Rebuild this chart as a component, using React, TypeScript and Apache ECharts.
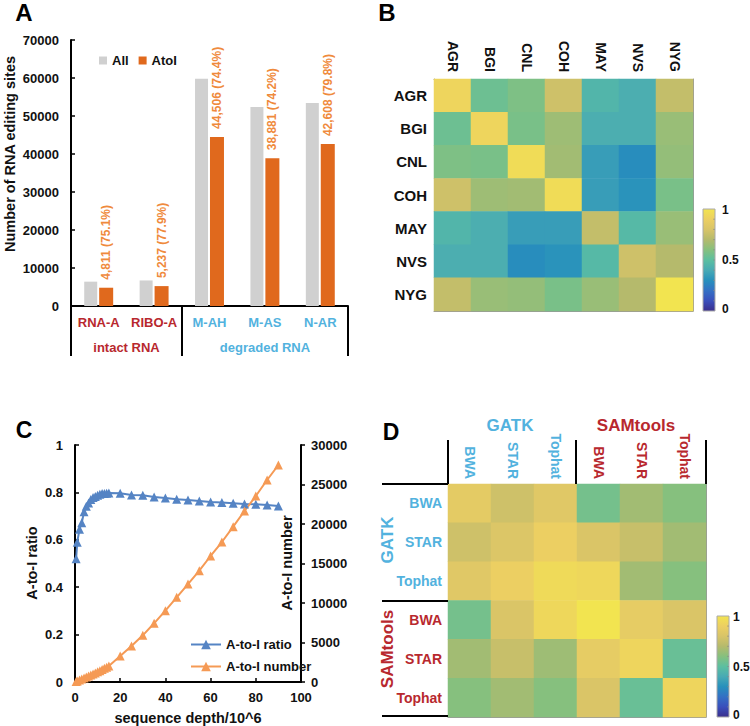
import React, { useEffect, useRef } from 'react';
import * as echarts from 'echarts';

// ---------- Panel A ----------
const sampleNames = ['RNA-A', 'RIBO-A', 'M-AH', 'M-AS', 'N-AR'];
const allSites = [6406, 6723, 59820, 52400, 53393];
const atoiSites = [4811, 5237, 44506, 38881, 42608];
const atoiPct = [75.1, 77.9, 74.4, 74.2, 79.8];
const groupNames = ['intact RNA', 'degraded RNA'];
const seriesNamesA = ['All', 'AtoI'];

// ---------- Panel B ----------
const centers = ['AGR', 'BGI', 'CNL', 'COH', 'MAY', 'NVS', 'NYG'];
const centerCorr = [
  [0.93, 0.54, 0.58, 0.77, 0.45, 0.42, 0.74],
  [0.54, 0.93, 0.57, 0.65, 0.42, 0.42, 0.64],
  [0.58, 0.57, 0.96, 0.66, 0.35, 0.29, 0.63],
  [0.77, 0.65, 0.66, 0.96, 0.35, 0.31, 0.57],
  [0.45, 0.42, 0.35, 0.35, 0.74, 0.47, 0.64],
  [0.42, 0.42, 0.29, 0.31, 0.47, 0.77, 0.70],
  [0.74, 0.64, 0.63, 0.57, 0.64, 0.70, 1.0],
];

// ---------- Panel C ----------
const depth = [0.5, 1, 2, 3, 4, 5, 6, 7, 8, 9, 10, 11, 12, 13, 14, 15, 20, 25, 30, 35, 40, 45, 50, 55, 60, 65, 70, 75, 80, 85, 90];
const atoiRatio = [0.52, 0.59, 0.645, 0.672, 0.718, 0.742, 0.755, 0.77, 0.778, 0.783, 0.788, 0.792, 0.795, 0.795, 0.796, 0.797,
  0.796, 0.789, 0.788, 0.781, 0.776, 0.771, 0.768, 0.764, 0.759, 0.757, 0.754, 0.751, 0.75, 0.747, 0.743];
const atoiNumber = [60, 130, 260, 380, 500, 620, 750, 880, 1010, 1150, 1290, 1430, 1580, 1730, 1880, 2040,
  3290, 4560, 5910, 7430, 9030, 10720, 12400, 14090, 15950, 17720, 19660, 21650, 23540, 25570, 27470];
const seriesNamesC = ['A-to-I ratio', 'A-to-I number'];

// ---------- Panel D ----------
const callers = ['GATK', 'SAMtools'];
const aligners = ['BWA', 'STAR', 'Tophat'];
const pipelineCorr = [
  [0.86, 0.77, 0.84, 0.56, 0.66, 0.60],
  [0.77, 0.82, 0.90, 0.81, 0.75, 0.66],
  [0.84, 0.90, 0.95, 0.94, 0.66, 0.60],
  [0.56, 0.81, 0.94, 1.00, 0.87, 0.81],
  [0.66, 0.75, 0.65, 0.87, 0.93, 0.53],
  [0.60, 0.66, 0.60, 0.81, 0.53, 0.93],
];

const FONT = '"Liberation Sans", Arial, sans-serif';
const RED = '#b8282e';
const BLUE = '#52b2de';
const CMAP = ['#3a2e8c', '#3a4fbc', '#3470c4', '#2790bc', '#48aab4', '#5cbfa0', '#86c07e', '#b5ba6c', '#d8c468', '#eccf62', '#f2e450'];

function txt(x: number, y: number, text: string, size: number, color: string, rot = 0, align = 'center') {
  return {
    type: 'text', x, y, rotation: rot, z: 100,
    style: { text, fill: color, font: `bold ${size}px ${FONT}`, align, verticalAlign: 'middle', textAlign: align, textVerticalAlign: 'middle' },
  };
}
function ln(x1: number, y1: number, x2: number, y2: number, color = '#000', w = 2) {
  return { type: 'line', z: 100, shape: { x1, y1, x2, y2 }, style: { stroke: color, lineWidth: w } };
}
function colorbar(x: number, y: number, w: number, h: number, lx: number) {
  const n = CMAP.length;
  const stops = CMAP.map((c, i) => ({ offset: i / (n - 1), color: CMAP[n - 1 - i] }));
  const els: any[] = [{
    type: 'rect', z: 100, shape: { x, y, width: w, height: h },
    style: { fill: new echarts.graphic.LinearGradient(0, 0, 0, 1, stops), stroke: '#aaa', lineWidth: 1 },
  }];
  for (let k = 1; k < 10; k++) {
    const yy = y + (h * k) / 10;
    els.push(ln(x + w - 2, yy, x + w, yy, '#888', 0.6));
  }
  els.push(txt(lx, y + 1, '1', 12, '#111', 0, 'left'));
  els.push(txt(lx, y + h / 2, '0.5', 12, '#111', 0, 'left'));
  els.push(txt(lx, y + h - 2, '0', 12, '#111', 0, 'left'));
  return els;
}

export default function App() {
  const ref = useRef<HTMLDivElement>(null);
  useEffect(() => {
    if (!ref.current) return;
    const chart = echarts.init(ref.current, null, { renderer: 'svg' });
    const dLabels = callers.flatMap((c) => aligners.map((a) => `${c}|${a}`));
    const heatB: number[][] = [];
    centerCorr.forEach((row, r) => row.forEach((v, c) => heatB.push([c, r, v])));
    const heatD: number[][] = [];
    pipelineCorr.forEach((row, r) => row.forEach((v, c) => heatD.push([c, r, v])));

    const dFmt = (v: string, i: number) => {
      const name = v.split('|')[1];
      return i < 3 ? `{b|${name}}` : `{r|${name}}`;
    };
    const dRich = {
      b: { color: BLUE, fontWeight: 'bold', fontSize: 14, fontFamily: FONT },
      r: { color: RED, fontWeight: 'bold', fontSize: 14, fontFamily: FONT },
    };
    const heatAxisCommon = {
      type: 'category',
      axisLine: { lineStyle: { color: '#999', width: 1 } },
      axisTick: { inside: true, alignWithLabel: true, length: 3, lineStyle: { color: '#666' } },
      splitLine: { show: false },
    };
    const plain = (v: number) => String(Math.round(v * 1000) / 1000);

    const option: any = {
      animation: false,
      backgroundColor: '#fff',
      textStyle: { fontFamily: FONT },
      grid: [
        { left: 71, top: 40, width: 277, height: 266 },
        { left: 434, top: 79, width: 259, height: 232 },
        { left: 75, top: 445, width: 226, height: 237 },
        { left: 448, top: 484, width: 258, height: 233 },
      ],
      legend: [
        {
          data: seriesNamesA, left: 94, top: 49, icon: 'rect', itemWidth: 8, itemHeight: 8, itemGap: 10,
          textStyle: { fontWeight: 'bold', fontSize: 13, color: '#111', fontFamily: FONT },
        },
        {
          data: seriesNamesC, left: 185, top: 633, orient: 'vertical', itemWidth: 30, itemHeight: 12, itemGap: 9,
          textStyle: { fontWeight: 'bold', fontSize: 13, color: '#111', fontFamily: FONT },
        },
      ],
      xAxis: [
        {
          gridIndex: 0, type: 'category', data: sampleNames,
          axisLine: { lineStyle: { color: '#000', width: 2 } }, axisTick: { show: false },
          axisLabel: {
            margin: 10, interval: 0,
            formatter: (v: string, i: number) => (i < 2 ? `{r|${v}}` : `{b|${v}}`),
            rich: {
              r: { color: RED, fontWeight: 'bold', fontSize: 13, fontFamily: FONT },
              b: { color: BLUE, fontWeight: 'bold', fontSize: 13, fontFamily: FONT },
            },
          },
        },
        {
          ...heatAxisCommon, gridIndex: 1, position: 'top', data: centers,
          axisLabel: { rotate: 90, margin: 7, fontWeight: 'bold', fontSize: 14, color: '#111', interval: 0 },
        },
        { ...heatAxisCommon, gridIndex: 1, position: 'bottom', data: centers, axisLabel: { show: false } },
        {
          gridIndex: 2, type: 'value', min: 0, max: 100, interval: 20,
          axisLine: { lineStyle: { color: '#000', width: 2 } },
          axisTick: { inside: true, length: 4, lineStyle: { color: '#000', width: 1.5 } },
          axisLabel: { margin: 9, fontWeight: 'bold', fontSize: 13, color: '#111', formatter: plain },
          splitLine: { show: false },
        },
        {
          ...heatAxisCommon, gridIndex: 3, position: 'top', data: dLabels,
          axisLabel: { rotate: 90, margin: 5, interval: 0, formatter: dFmt, rich: dRich },
        },
        { ...heatAxisCommon, gridIndex: 3, position: 'bottom', data: dLabels, axisLabel: { show: false } },
      ],
      yAxis: [
        {
          gridIndex: 0, type: 'value', min: 0, max: 70000, interval: 10000,
          axisLine: { show: true, lineStyle: { color: '#000', width: 2 } },
          axisTick: { show: true, inside: true, length: 4, lineStyle: { color: '#000', width: 1.5 } },
          axisLabel: { margin: 12, fontWeight: 'bold', fontSize: 13, color: '#111', formatter: plain },
          splitLine: { show: false },
        },
        {
          ...heatAxisCommon, gridIndex: 1, position: 'left', inverse: true, data: centers,
          axisLabel: { margin: 7, fontWeight: 'bold', fontSize: 15, color: '#111', interval: 0 },
        },
        { ...heatAxisCommon, gridIndex: 1, position: 'right', inverse: true, data: centers, axisLabel: { show: false } },
        {
          gridIndex: 2, type: 'value', min: 0, max: 1, interval: 0.2, position: 'left',
          axisLine: { show: true, lineStyle: { color: '#000', width: 2 } },
          axisTick: { show: true, inside: true, length: 4, lineStyle: { color: '#000', width: 1.5 } },
          axisLabel: { margin: 12, fontWeight: 'bold', fontSize: 13, color: '#111', formatter: plain },
          splitLine: { show: false },
        },
        {
          gridIndex: 2, type: 'value', min: 0, max: 30000, interval: 5000, position: 'right',
          axisLine: { show: true, lineStyle: { color: '#000', width: 2 } },
          axisTick: { show: true, inside: false, length: 4, lineStyle: { color: '#000', width: 1.5 } },
          axisLabel: { margin: 10, fontWeight: 'bold', fontSize: 13, color: '#111', formatter: plain },
          splitLine: { show: false },
        },
        {
          ...heatAxisCommon, gridIndex: 3, position: 'left', inverse: true, data: dLabels,
          axisLabel: { margin: 6, interval: 0, formatter: dFmt, rich: dRich },
        },
        { ...heatAxisCommon, gridIndex: 3, position: 'right', inverse: true, data: dLabels, axisLabel: { show: false } },
      ],
      visualMap: [{
        type: 'continuous', min: 0, max: 1, show: false, seriesIndex: [2, 5],
        inRange: { color: CMAP },
      }],
      series: [
        {
          name: 'All', type: 'bar', xAxisIndex: 0, yAxisIndex: 0, data: allSites,
          barWidth: 13, barGap: '15%', itemStyle: { color: '#d0d0d0' },
        },
        {
          name: 'AtoI', type: 'bar', xAxisIndex: 0, yAxisIndex: 0, data: atoiSites,
          barWidth: 14, barGap: '15%', itemStyle: { color: '#e0691d' },
          label: {
            show: true, position: 'top', rotate: 90, align: 'left', verticalAlign: 'middle', distance: 8,
            color: '#ef8a3c', fontWeight: 'bold', fontSize: 12, fontFamily: FONT,
            formatter: (p: any) => `${atoiSites[p.dataIndex].toLocaleString('en-US')} (${atoiPct[p.dataIndex].toFixed(1)}%)`,
          },
        },
        {
          type: 'heatmap', xAxisIndex: 1, yAxisIndex: 1, data: heatB,
          itemStyle: { borderWidth: 0 }, emphasis: { disabled: true },
        },
        {
          name: 'A-to-I ratio', type: 'line', xAxisIndex: 3, yAxisIndex: 3,
          data: depth.map((d, i) => [d, atoiRatio[i]]),
          symbol: 'triangle', symbolSize: 9, lineStyle: { color: '#5584c4', width: 2 },
          itemStyle: { color: '#5584c4' },
        },
        {
          name: 'A-to-I number', type: 'line', xAxisIndex: 3, yAxisIndex: 4,
          data: depth.map((d, i) => [d, atoiNumber[i]]),
          symbol: 'triangle', symbolSize: 9, lineStyle: { color: '#f59a55', width: 2 },
          itemStyle: { color: '#f59a55' },
        },
        {
          type: 'heatmap', xAxisIndex: 4, yAxisIndex: 5, data: heatD,
          itemStyle: { borderWidth: 0 }, emphasis: { disabled: true },
        },
      ],
      graphic: {
        elements: [
          // panel letters
          txt(24, 12, 'A', 24, '#000'),
          txt(387, 12, 'B', 24, '#000'),
          txt(24, 430, 'C', 23, '#000'),
          txt(391, 432, 'D', 23, '#000'),
          // panel A
          txt(10, 154, 'Number of RNA editing sites', 14.5, '#111', Math.PI / 2),
          ln(71, 306, 71, 356), ln(182, 306, 182, 356), ln(348, 306, 348, 356),
          txt(126.5, 347, groupNames[0], 13, RED),
          txt(265, 347, groupNames[1], 13, BLUE),
          // panel C
          txt(32, 563, 'A-to-I ratio', 14.5, '#111', Math.PI / 2),
          txt(287, 563, 'A-to-I number', 14.5, '#111', Math.PI / 2),
          txt(188, 718, 'sequence depth/10^6', 14.5, '#111'),
          // panel D
          txt(510, 425, callers[0], 17, BLUE),
          txt(636, 425, callers[1], 17, RED),
          txt(387, 540, callers[0], 17, BLUE, Math.PI / 2),
          txt(387, 649, callers[1], 17, RED, Math.PI / 2),
          ln(448, 440, 448, 484), ln(576, 440, 576, 484), ln(706, 440, 706, 484),
          ln(382, 484, 448, 484), ln(382, 601, 448, 601), ln(382, 716, 448, 716),
          // colorbars
          ...colorbar(703, 209, 12, 102, 722),
          ...colorbar(717, 616, 12, 101, 733),
        ],
      },
    };
    chart.setOption(option);
    return () => chart.dispose();
  }, []);
  return <div ref={ref} style={{ position: 'fixed', left: 0, top: 0, width: 750, height: 726, background: '#fff' }} />;
}
